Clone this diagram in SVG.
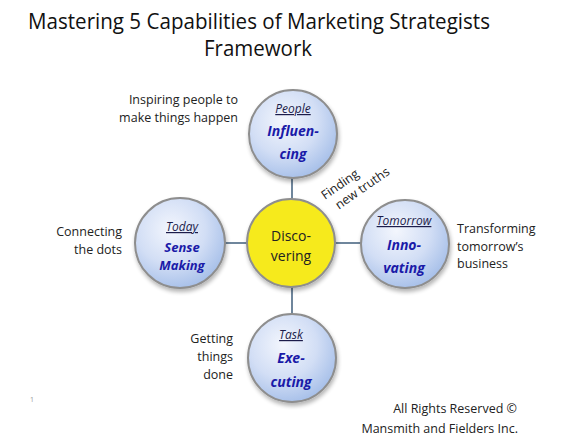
<svg xmlns="http://www.w3.org/2000/svg" width="586" height="440" viewBox="0 0 586 440">
<defs>
<radialGradient id="blue" cx="0.4" cy="0.35" r="0.7">
<stop offset="0" stop-color="#f3f6fd"/>
<stop offset="0.55" stop-color="#d2def5"/>
<stop offset="1" stop-color="#a3bde8"/>
</radialGradient>
<filter id="sh" x="-20%" y="-20%" width="150%" height="150%">
<feGaussianBlur in="SourceAlpha" stdDeviation="2"/>
<feOffset dx="1" dy="3"/>
<feComponentTransfer><feFuncA type="linear" slope="0.3"/></feComponentTransfer>
<feMerge><feMergeNode/><feMergeNode in="SourceGraphic"/></feMerge>
</filter>
</defs>
<style>
text{font-family:"Open Sans","Liberation Sans",sans-serif;}
.title{font-size:21px;fill:#111;text-anchor:middle;}
.lbl{font-size:12.5px;fill:#222;}
.r{text-anchor:end;}
.c{text-anchor:middle;}
.when{font-size:12px;font-style:italic;fill:#1c1c4a;text-decoration:underline;text-anchor:middle;}
.cap{font-size:14px;font-style:italic;font-weight:bold;fill:#1a1aa8;text-anchor:middle;}
.bc{fill:url(#blue);stroke:#8e8e8e;stroke-width:2;filter:url(#sh);}
.yc{fill:#f6ea1e;stroke:#8e8e8e;stroke-width:2;filter:url(#sh);}
.ln{stroke:#6f869c;stroke-width:2;fill:none;}
</style>
<rect width="586" height="440" fill="#fff"/>
<text class="title" x="259" y="29" textLength="462" lengthAdjust="spacingAndGlyphs">Mastering 5 Capabilities of Marketing Strategists</text>
<text class="title" x="258" y="56" textLength="108" lengthAdjust="spacingAndGlyphs">Framework</text>
<g id="connectors">
<line class="ln" x1="292" y1="178" x2="292" y2="200"/>
<line class="ln" x1="225" y1="243" x2="248" y2="243"/>
<line class="ln" x1="336" y1="243" x2="361" y2="243"/>
<line class="ln" x1="292" y1="286" x2="292" y2="314"/>
</g>
<g id="discovering">
<circle class="yc" cx="291" cy="243" r="44"/>
<text class="c" x="291" y="241" style="font-size:14px;fill:#222;">Disco-</text>
<text class="c" x="291" y="261" style="font-size:14px;fill:#222;">vering</text>
</g>
<g id="influencing">
<circle class="bc" cx="293" cy="134" r="44"/>
<text class="when" x="293" y="113">People</text>
<text class="cap" x="293" y="136">Influen-</text>
<text class="cap" x="293" y="159">cing</text>
</g>
<g id="sensemaking">
<circle class="bc" cx="180" cy="243" r="45"/>
<text class="when" x="182" y="231">Today</text>
<text class="cap" x="182" y="252" style="font-size:13px">Sense</text>
<text class="cap" x="182" y="270" style="font-size:13px">Making</text>
</g>
<g id="innovating">
<circle class="bc" cx="405" cy="244" r="44"/>
<text class="when" x="404" y="225">Tomorrow</text>
<text class="cap" x="404" y="250">Inno-</text>
<text class="cap" x="404" y="273">vating</text>
</g>
<g id="executing">
<circle class="bc" cx="292" cy="358" r="44"/>
<text class="when" x="291" y="339">Task</text>
<text class="cap" x="291" y="363">Exe-</text>
<text class="cap" x="291" y="387">cuting</text>
</g>
<g id="notes">
<text class="lbl r" x="238" y="104">Inspiring people to</text>
<text class="lbl r" x="238" y="122">make things happen</text>
<text class="lbl r" x="122" y="236">Connecting</text>
<text class="lbl r" x="122" y="254">the dots</text>
<text class="lbl" x="457" y="233">Transforming</text>
<text class="lbl" x="457" y="251">tomorrow’s</text>
<text class="lbl" x="457" y="268">business</text>
<text class="lbl r" x="233" y="343">Getting</text>
<text class="lbl r" x="233" y="361">things</text>
<text class="lbl r" x="233" y="379">done</text>
<g transform="translate(325,200) rotate(-35)">
<text class="lbl" x="0" y="0">Finding</text>
<text class="lbl" x="6" y="16">new truths</text>
</g>
<text x="30" y="402" style="font-size:7px;fill:#999;">1</text>
<text class="lbl r" x="517" y="413">All Rights Reserved ©</text>
<text class="lbl r" x="518" y="433">Mansmith and Fielders Inc.</text>
</g>
</svg>
